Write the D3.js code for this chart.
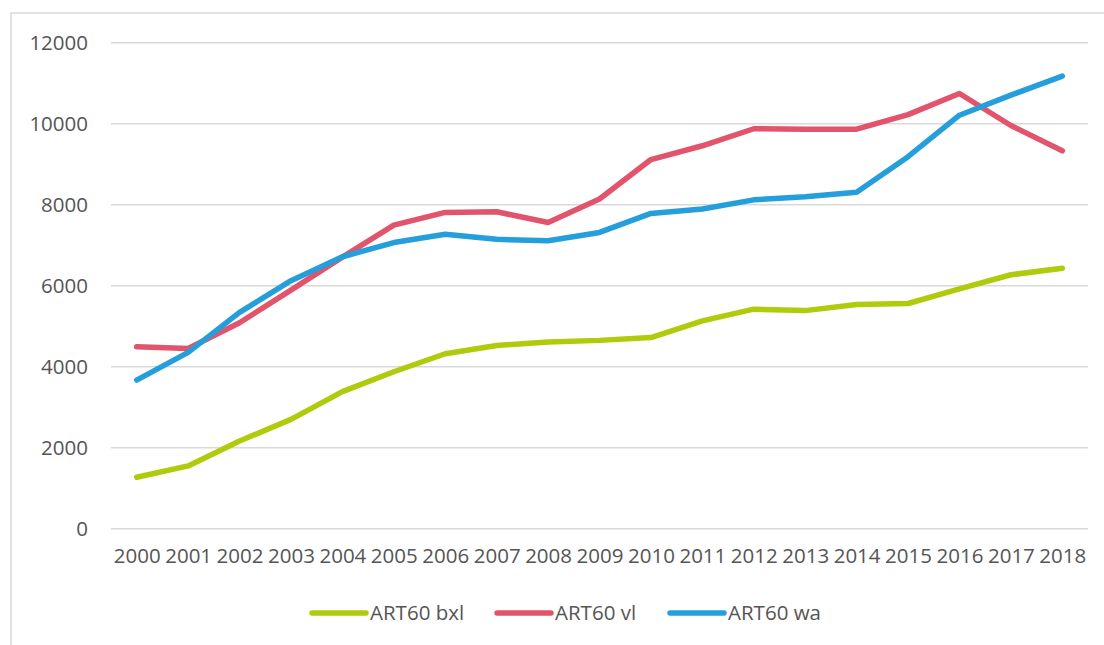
<!DOCTYPE html>
<html>
<head>
<meta charset="utf-8">
<script src="https://cdn.jsdelivr.net/npm/d3@7"></script>
<style>
  html, body { margin: 0; padding: 0; background: #ffffff; }
  svg { display: block; }
  text { font-family: "Open Sans", "Liberation Sans", sans-serif; fill: #555555; }
</style>
</head>
<body>
<svg id="chart" width="1104" height="645"></svg>
<script>
const years = ["2000","2001","2002","2003","2004","2005","2006","2007","2008","2009","2010","2011","2012","2013","2014","2015","2016","2017","2018"];
const seriesNames = ["ART60 bxl", "ART60 vl", "ART60 wa"];
const bxl = [1270, 1550, 2165, 2700, 3385, 3875, 4320, 4525, 4610, 4650, 4720, 5130, 5420, 5385, 5535, 5560, 5920, 6270, 6430];
const vl  = [4495, 4450, 5085, 5890, 6705, 7495, 7810, 7825, 7560, 8140, 9115, 9455, 9875, 9865, 9865, 10225, 10745, 9955, 9330];
const wa  = [3670, 4355, 5340, 6125, 6715, 7065, 7270, 7145, 7110, 7315, 7785, 7895, 8120, 8195, 8310, 9185, 10210, 10705, 11175];
const yTicks = [0, 2000, 4000, 6000, 8000, 10000, 12000];
const colors = ["#b0cb0c", "#e2536c", "#259fdb"];

const svg = d3.select("#chart");

// outer chart border (top and left visible)
svg.append("path")
  .attr("d", "M11,645 L11,13 L1104,13")
  .attr("fill", "none").attr("stroke", "#d9d9d9").attr("stroke-width", 1.5);

const x = d3.scalePoint().domain(years).range([136.7, 1062.3]);
const y = d3.scaleLinear().domain([0, 12000]).range([528.7, 42.7]);

// gridlines
svg.append("g").selectAll("line").data(yTicks).join("line")
  .attr("x1", 111).attr("x2", 1088)
  .attr("y1", d => y(d)).attr("y2", d => y(d))
  .attr("stroke", "#d9d9d9").attr("stroke-width", 1.5);

// y axis labels
const yAxis = d3.axisLeft(y).tickValues(yTicks).tickSize(0).tickPadding(0).tickFormat(d3.format("d"));
svg.append("g").attr("transform", "translate(88,0)").call(yAxis)
  .call(g => g.select(".domain").remove())
  .call(g => g.selectAll("text").attr("font-size", 20.5).attr("fill", "#555555")
    .attr("font-family", "'Open Sans', sans-serif").attr("dy", "0.35em"));

// x axis labels
const xAxis = d3.axisBottom(x).tickSize(0).tickPadding(0);
svg.append("g").attr("transform", "translate(0,548)").call(xAxis)
  .call(g => g.select(".domain").remove())
  .call(g => g.selectAll("text").attr("font-size", 20.5).attr("fill", "#555555")
    .attr("font-family", "'Open Sans', sans-serif").attr("dy", "0.71em"));

// lines
const data = [bxl, vl, wa];
const line = d3.line().x((d, i) => x(years[i])).y(d => y(d));
svg.append("g").selectAll("path").data(data).join("path")
  .attr("d", d => line(d))
  .attr("fill", "none")
  .attr("stroke", (d, i) => colors[i])
  .attr("stroke-width", 5.5)
  .attr("stroke-linejoin", "round")
  .attr("stroke-linecap", "round");

// legend
const legendX = [312, 497, 670];
const legend = svg.append("g").selectAll("g").data(seriesNames).join("g")
  .attr("transform", (d, i) => `translate(${legendX[i]},613)`);
legend.append("line").attr("x1", 0).attr("x2", 54).attr("y1", 0).attr("y2", 0)
  .attr("stroke", (d, i) => colors[i]).attr("stroke-width", 5.5).attr("stroke-linecap", "round");
legend.append("text").attr("x", 58).attr("y", 0).attr("dy", "0.35em")
  .attr("font-size", 20.5).text(d => d);
</script>
</body>
</html>
